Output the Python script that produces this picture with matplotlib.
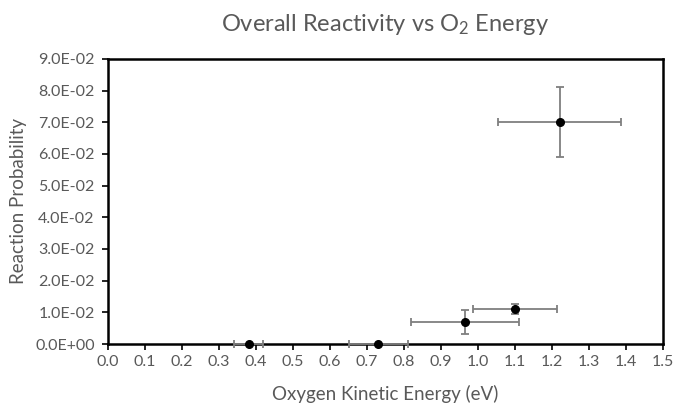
import matplotlib
matplotlib.use("Agg")
import matplotlib.pyplot as plt
from matplotlib.ticker import FuncFormatter

plt.rcParams['font.family'] = ['Lato', 'DejaVu Sans']
plt.rcParams['mathtext.fontset'] = 'custom'
plt.rcParams['mathtext.rm'] = 'Lato'
plt.rcParams['mathtext.it'] = 'Lato:italic'

# Measured reaction probabilities vs O2 kinetic energy
energy = [0.38, 0.73, 0.965, 1.10, 1.22]
energy_err = [0.04, 0.08, 0.145, 0.113, 0.167]
probability = [0.0, 0.0, 0.0069, 0.0111, 0.0700]
probability_err = [0.0, 0.0, 0.0037, 0.0016, 0.0110]

x_ticks = [i / 10 for i in range(16)]
y_ticks = [i / 100 for i in range(10)]

text_color = '#595959'

fig = plt.figure(figsize=(6.74, 4.04), dpi=100)
ax = fig.add_axes([0.160, 0.1485, 0.824, 0.7055])

ax.errorbar(energy, probability, xerr=energy_err, yerr=probability_err,
            fmt='o', color='black', markersize=5.5, ecolor='#7f7f7f',
            elinewidth=1.3, capsize=3, capthick=1.3, clip_on=False, zorder=3)

ax.set_xlim(0, 1.5)
ax.set_ylim(0, 0.09)
ax.set_xticks(x_ticks)
ax.set_yticks(y_ticks)
ax.xaxis.set_major_formatter(FuncFormatter(lambda v, p: f'{v:.1f}'))
ax.yaxis.set_major_formatter(FuncFormatter(lambda v, p: f'{v:.1E}'))

for s in ax.spines.values():
    s.set_linewidth(1.8)
    s.set_color('black')
    s.set_zorder(2)

ax.tick_params(axis='both', direction='out', length=4, width=1.2,
               color='black', labelcolor=text_color, labelsize=11.5)
ax.tick_params(axis='y', pad=5.5)
ax.tick_params(axis='x', pad=4)

ax.set_xlabel('Oxygen Kinetic Energy (eV)', color=text_color, fontsize=13.5)
ax.set_ylabel('Reaction Probability', color=text_color, fontsize=13.5)
ax.xaxis.set_label_coords(0.5, -0.142)
ax.yaxis.set_label_coords(-0.146, 0.5)
ax.set_title('Overall Reactivity vs O$_2$ Energy', color=text_color, fontsize=17, pad=20)

fig.savefig('out.png', dpi=100)
